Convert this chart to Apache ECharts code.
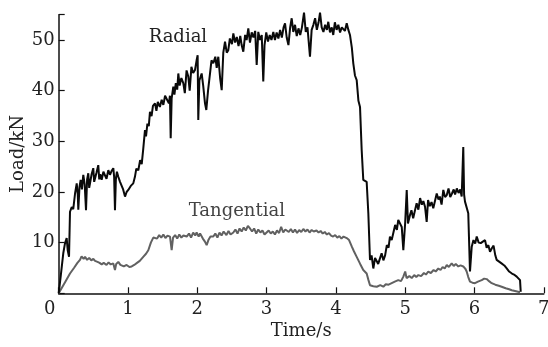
<!DOCTYPE html>
<html>
<head>
<meta charset="utf-8">
<script src="https://cdn.jsdelivr.net/npm/echarts@6/dist/echarts.min.js"></script>
<style>html,body{margin:0;padding:0;background:#fff}#c{width:548px;height:347px}</style>
</head>
<body>
<div id="c"></div>
<script>
const xTicks = [0, 1, 2, 3, 4, 5, 6, 7];
const yTicks = [10, 20, 30, 40, 50];
const seriesNames = ['Radial', 'Tangential'];

const radial = [
[0.00,0],[0.03,3.5],[0.066,7.9],[0.09,9.8],[0.115,10.9],[0.13,8.5],[0.149,7.2],[0.163,16.1],[0.188,17.0],[0.21,16.6],
[0.236,19.7],[0.26,21.7],[0.275,19.5],[0.283,16.5],[0.30,21.0],[0.317,22.4],[0.335,20.5],[0.355,23.4],[0.375,21.5],[0.394,16.4],
[0.41,22.5],[0.427,23.7],[0.44,20.8],[0.452,21.0],[0.475,23.5],[0.499,24.7],[0.512,22.0],[0.524,21.7],[0.545,23.8],[0.571,25.3],
[0.585,22.5],[0.60,23.5],[0.62,22.4],[0.645,24.0],[0.668,23.7],[0.69,22.6],[0.716,24.3],[0.74,23.4],[0.765,24.2],[0.788,24.7],
[0.80,23.0],[0.812,16.4],[0.825,22.5],[0.84,24.0],[0.86,23.0],[0.885,22.0],[0.909,22.0],[0.93,20.5],[0.957,19.1],[0.98,20.0],
[1.004,20.4],[1.04,21.2],[1.076,21.7],[1.10,23.0],[1.12,24.6],[1.149,24.3],[1.175,26.3],[1.198,25.5],[1.22,28.5],[1.245,32.2],
[1.26,31.0],[1.28,33.5],[1.30,33.0],[1.317,35.8],[1.34,35.0],[1.36,37.0],[1.39,37.5],[1.41,36.0],[1.43,37.8],[1.46,36.8],
[1.486,38.2],[1.51,37.2],[1.535,39.0],[1.558,38.8],[1.59,37.5],[1.605,39.0],[1.616,30.6],[1.63,38.5],[1.654,40.8],[1.67,39.2],
[1.69,41.5],[1.71,40.2],[1.726,43.4],[1.745,41.0],[1.77,42.5],[1.798,41.5],[1.82,39.5],[1.845,44.0],[1.870,42.8],[1.89,40.0],
[1.915,44.7],[1.94,43.5],[1.967,44.1],[1.99,46.0],[2.005,47.0],[2.014,34.2],[2.03,42.0],[2.063,43.4],[2.085,41.0],[2.111,37.5],
[2.13,36.2],[2.155,40.0],[2.18,40.1],[2.205,46.0],[2.231,45.4],[2.26,46.7],[2.28,44.5],[2.303,46.7],[2.33,42.4],[2.352,40.1],
[2.375,47.5],[2.40,49.7],[2.425,47.5],[2.447,48.0],[2.47,50.3],[2.50,49.2],[2.52,51.3],[2.545,49.5],[2.57,50.6],[2.595,48.8],
[2.62,50.8],[2.64,49.0],[2.664,47.7],[2.69,51.0],[2.712,50.0],[2.736,52.3],[2.76,49.5],[2.785,51.5],[2.81,50.5],[2.835,51.8],
[2.857,45.1],[2.88,51.6],[2.905,50.0],[2.93,51.0],[2.952,41.8],[2.97,49.0],[2.995,51.5],[3.02,49.7],[3.045,51.0],[3.07,50.0],
[3.097,51.6],[3.12,50.0],[3.145,51.5],[3.17,50.3],[3.195,52.0],[3.22,50.5],[3.245,52.5],[3.266,53.3],[3.29,50.5],[3.315,49.0],
[3.34,52.5],[3.362,54.3],[3.385,51.6],[3.41,53.0],[3.435,50.8],[3.46,52.3],[3.485,51.0],[3.51,52.5],[3.54,55.4],[3.565,51.6],
[3.59,52.5],[3.626,46.7],[3.65,52.0],[3.675,53.0],[3.70,54.3],[3.725,52.0],[3.75,53.5],[3.771,55.4],[3.795,52.5],[3.82,51.6],
[3.845,53.0],[3.87,52.0],[3.89,53.6],[3.915,51.5],[3.94,52.5],[3.962,51.0],[3.985,53.5],[4.01,52.0],[4.035,53.0],[4.06,51.5],
[4.085,52.5],[4.11,52.3],[4.13,51.8],[4.156,53.3],[4.18,52.0],[4.203,51.0],[4.23,48.5],[4.251,45.4],[4.275,43.0],[4.30,42.1],
[4.325,38.0],[4.348,36.8],[4.372,28.3],[4.395,22.4],[4.444,22.0],[4.468,15.8],[4.492,6.6],[4.515,7.5],[4.54,4.9],[4.565,7.0],
[4.59,7.2],[4.61,5.8],[4.636,6.9],[4.66,7.9],[4.685,6.5],[4.71,7.5],[4.735,9.5],[4.76,9.0],[4.78,11.2],[4.805,10.5],
[4.83,12.0],[4.855,13.5],[4.88,12.5],[4.90,14.5],[4.925,14.8],[4.95,13.1],[4.973,8.5],[5.00,14.0],[5.022,20.4],[5.04,13.8],
[5.07,15.5],[5.09,16.4],[5.115,14.8],[5.141,15.1],[5.165,17.8],[5.19,16.5],[5.215,18.8],[5.24,17.5],[5.262,18.2],[5.286,17.1],
[5.31,14.1],[5.33,18.4],[5.355,17.2],[5.38,18.0],[5.405,16.8],[5.43,17.1],[5.455,19.7],[5.48,18.5],[5.50,19.1],[5.525,17.5],
[5.55,20.4],[5.575,19.0],[5.60,19.4],[5.625,20.7],[5.65,19.0],[5.675,19.7],[5.70,20.5],[5.72,19.5],[5.745,20.7],[5.77,19.8],
[5.795,20.5],[5.815,19.1],[5.838,28.9],[5.85,19.5],[5.863,18.1],[5.91,15.8],[5.935,4.3],[5.96,9.2],[5.985,10.5],[6.01,9.8],
[6.032,11.2],[6.06,10.0],[6.09,9.9],[6.12,10.2],[6.152,10.5],[6.175,9.0],[6.20,9.5],[6.224,8.2],[6.25,8.9],[6.275,9.4],
[6.30,7.5],[6.32,6.6],[6.35,6.3],[6.39,5.9],[6.43,5.5],[6.465,4.9],[6.50,4.3],[6.54,3.9],[6.57,3.7],[6.609,3.3],
[6.657,2.6],[6.667,0.3]
];

const tangential = [
[0,0],[0.05,1.2],[0.10,2.4],[0.163,3.9],[0.22,5.0],[0.27,6.0],[0.307,6.6],[0.33,7.3],[0.36,6.8],[0.38,7.2],
[0.41,6.6],[0.44,7.0],[0.47,6.5],[0.50,6.8],[0.524,6.4],[0.56,6.2],[0.59,6.0],[0.62,5.7],[0.65,6.0],[0.69,5.6],
[0.72,6.1],[0.75,5.7],[0.788,5.9],[0.812,4.6],[0.83,5.8],[0.86,6.2],[0.89,5.6],[0.909,5.8],[0.94,5.3],[0.98,5.6],
[1.02,5.2],[1.053,5.3],[1.09,5.6],[1.13,6.0],[1.17,6.4],[1.198,6.6],[1.22,7.2],[1.26,7.8],[1.293,8.5],[1.33,10.0],
[1.365,11.0],[1.39,11.2],[1.42,10.8],[1.45,11.5],[1.48,11.0],[1.51,11.6],[1.54,10.9],[1.57,11.4],[1.606,11.2],[1.63,8.5],
[1.65,11.0],[1.68,11.5],[1.71,10.8],[1.74,11.6],[1.77,11.0],[1.80,11.4],[1.847,11.2],[1.88,11.8],[1.91,11.0],[1.94,12.0],
[1.97,11.4],[1.99,12.0],[2.02,11.2],[2.04,11.8],[2.08,10.8],[2.11,10.2],[2.135,9.5],[2.16,10.5],[2.19,11.2],[2.231,11.2],
[2.26,11.8],[2.29,11.0],[2.32,12.0],[2.35,11.4],[2.38,12.2],[2.42,11.5],[2.45,12.3],[2.48,11.6],[2.52,12.0],[2.55,12.6],
[2.58,11.8],[2.61,12.8],[2.64,12.2],[2.67,13.0],[2.70,12.4],[2.73,13.3],[2.76,12.8],[2.79,12.2],[2.82,12.8],[2.85,11.8],
[2.88,12.6],[2.91,12.0],[2.94,12.4],[2.97,11.6],[3.0,12.0],[3.03,12.4],[3.06,11.8],[3.09,12.2],[3.12,11.6],[3.15,12.4],
[3.18,11.9],[3.21,13.1],[3.24,12.0],[3.27,12.6],[3.29,12.3],[3.32,12.1],[3.35,12.7],[3.38,12.0],[3.41,12.6],[3.44,11.9],
[3.47,12.5],[3.50,12.1],[3.53,12.7],[3.56,12.2],[3.59,12.6],[3.62,12.0],[3.65,12.5],[3.68,12.2],[3.72,12.4],[3.75,12.0],
[3.78,12.3],[3.81,11.8],[3.84,12.1],[3.87,11.6],[3.90,11.9],[3.93,11.4],[3.96,11.2],[3.99,11.5],[4.02,11.0],[4.05,11.3],
[4.08,10.8],[4.11,11.2],[4.156,10.9],[4.19,10.5],[4.23,9.2],[4.26,8.3],[4.30,7.2],[4.35,5.8],[4.395,4.6],[4.444,3.9],
[4.47,2.6],[4.492,1.6],[4.54,1.4],[4.59,1.3],[4.64,1.6],[4.684,1.3],[4.72,1.8],[4.76,1.7],[4.805,2.0],[4.85,2.3],
[4.90,2.6],[4.94,2.4],[4.973,3.3],[5.0,4.3],[5.02,3.0],[5.06,3.4],[5.094,3.0],[5.13,3.6],[5.16,3.2],[5.19,3.6],
[5.23,3.4],[5.27,4.0],[5.30,3.7],[5.333,4.3],[5.37,4.0],[5.41,4.6],[5.44,4.3],[5.478,4.9],[5.51,4.6],[5.54,5.2],
[5.57,4.9],[5.6,5.6],[5.63,5.2],[5.671,5.9],[5.70,5.4],[5.73,5.8],[5.766,5.3],[5.80,5.5],[5.838,5.3],[5.87,4.8],
[5.887,4.3],[5.91,3.2],[5.935,2.3],[5.97,2.1],[6.007,2.0],[6.05,2.3],[6.104,2.6],[6.14,2.9],[6.176,2.8],[6.21,2.4],
[6.248,2.0],[6.30,1.7],[6.35,1.5],[6.392,1.3],[6.45,1.0],[6.50,0.8],[6.537,0.6],[6.60,0.4],[6.657,0.2]
];

const FONT = 'DejaVu Serif';
const chart = echarts.init(document.getElementById('c'), null, {renderer: 'canvas'});
chart.setOption({
  animation: false,
  backgroundColor: '#fff',
  grid: {left: 58.7, right: 4.2, top: 14.7, bottom: 53.7, containLabel: false, outerBoundsMode: 'none'},
  xAxis: {
    type: 'value', min: xTicks[0], max: xTicks[xTicks.length - 1], interval: 1,
    name: 'Time/s', nameLocation: 'middle', nameGap: 29, nameMoveOverlap: false,
    nameTextStyle: {fontFamily: FONT, fontSize: 18, color: '#222'},
    axisLine: {lineStyle: {color: '#111', width: 1.5}},
    axisTick: {inside: true, length: 6, lineStyle: {color: '#111', width: 1.2}},
    axisLabel: {
      fontFamily: FONT, fontSize: 18, color: '#222', margin: 7,
      formatter: v => v === 0 ? '{z|0}' : String(v),
      rich: {z: {fontFamily: FONT, fontSize: 18, color: '#222', padding: [0, 18, 0, 0]}}
    },
    splitLine: {show: false}
  },
  yAxis: {
    type: 'value', min: 0, max: 55, interval: 10,
    name: 'Load/kN', nameLocation: 'middle', nameGap: 31, nameMoveOverlap: false,
    nameTextStyle: {fontFamily: FONT, fontSize: 18, color: '#222'},
    axisLine: {show: true, lineStyle: {color: '#111', width: 1.5}},
    axisTick: {show: true, inside: true, length: 6, lineStyle: {color: '#111', width: 1.2}},
    axisLabel: {
      fontFamily: FONT, fontSize: 18, color: '#222', margin: 4,
      formatter: v => yTicks.indexOf(v) >= 0 ? String(v) : ''
    },
    splitLine: {show: false}
  },
  series: [
    {
      name: seriesNames[0], type: 'line', data: radial, showSymbol: false, clip: false,
      lineStyle: {color: '#0a0a0a', width: 2}, z: 3,
      markPoint: {
        symbol: 'circle', symbolSize: 0, silent: true,
        label: {show: true, formatter: seriesNames[0], fontFamily: FONT, fontSize: 18, color: '#222', position: 'inside'},
        data: [{coord: [1.72, 50.6]}]
      }
    },
    {
      name: seriesNames[1], type: 'line', data: tangential, showSymbol: false, clip: false,
      lineStyle: {color: '#616161', width: 2}, z: 2,
      markPoint: {
        symbol: 'circle', symbolSize: 0, silent: true,
        label: {show: true, formatter: seriesNames[1], fontFamily: FONT, fontSize: 18, color: '#444', position: 'inside'},
        data: [{coord: [2.57, 16.2]}]
      }
    }
  ]
});
</script>
</body>
</html>
